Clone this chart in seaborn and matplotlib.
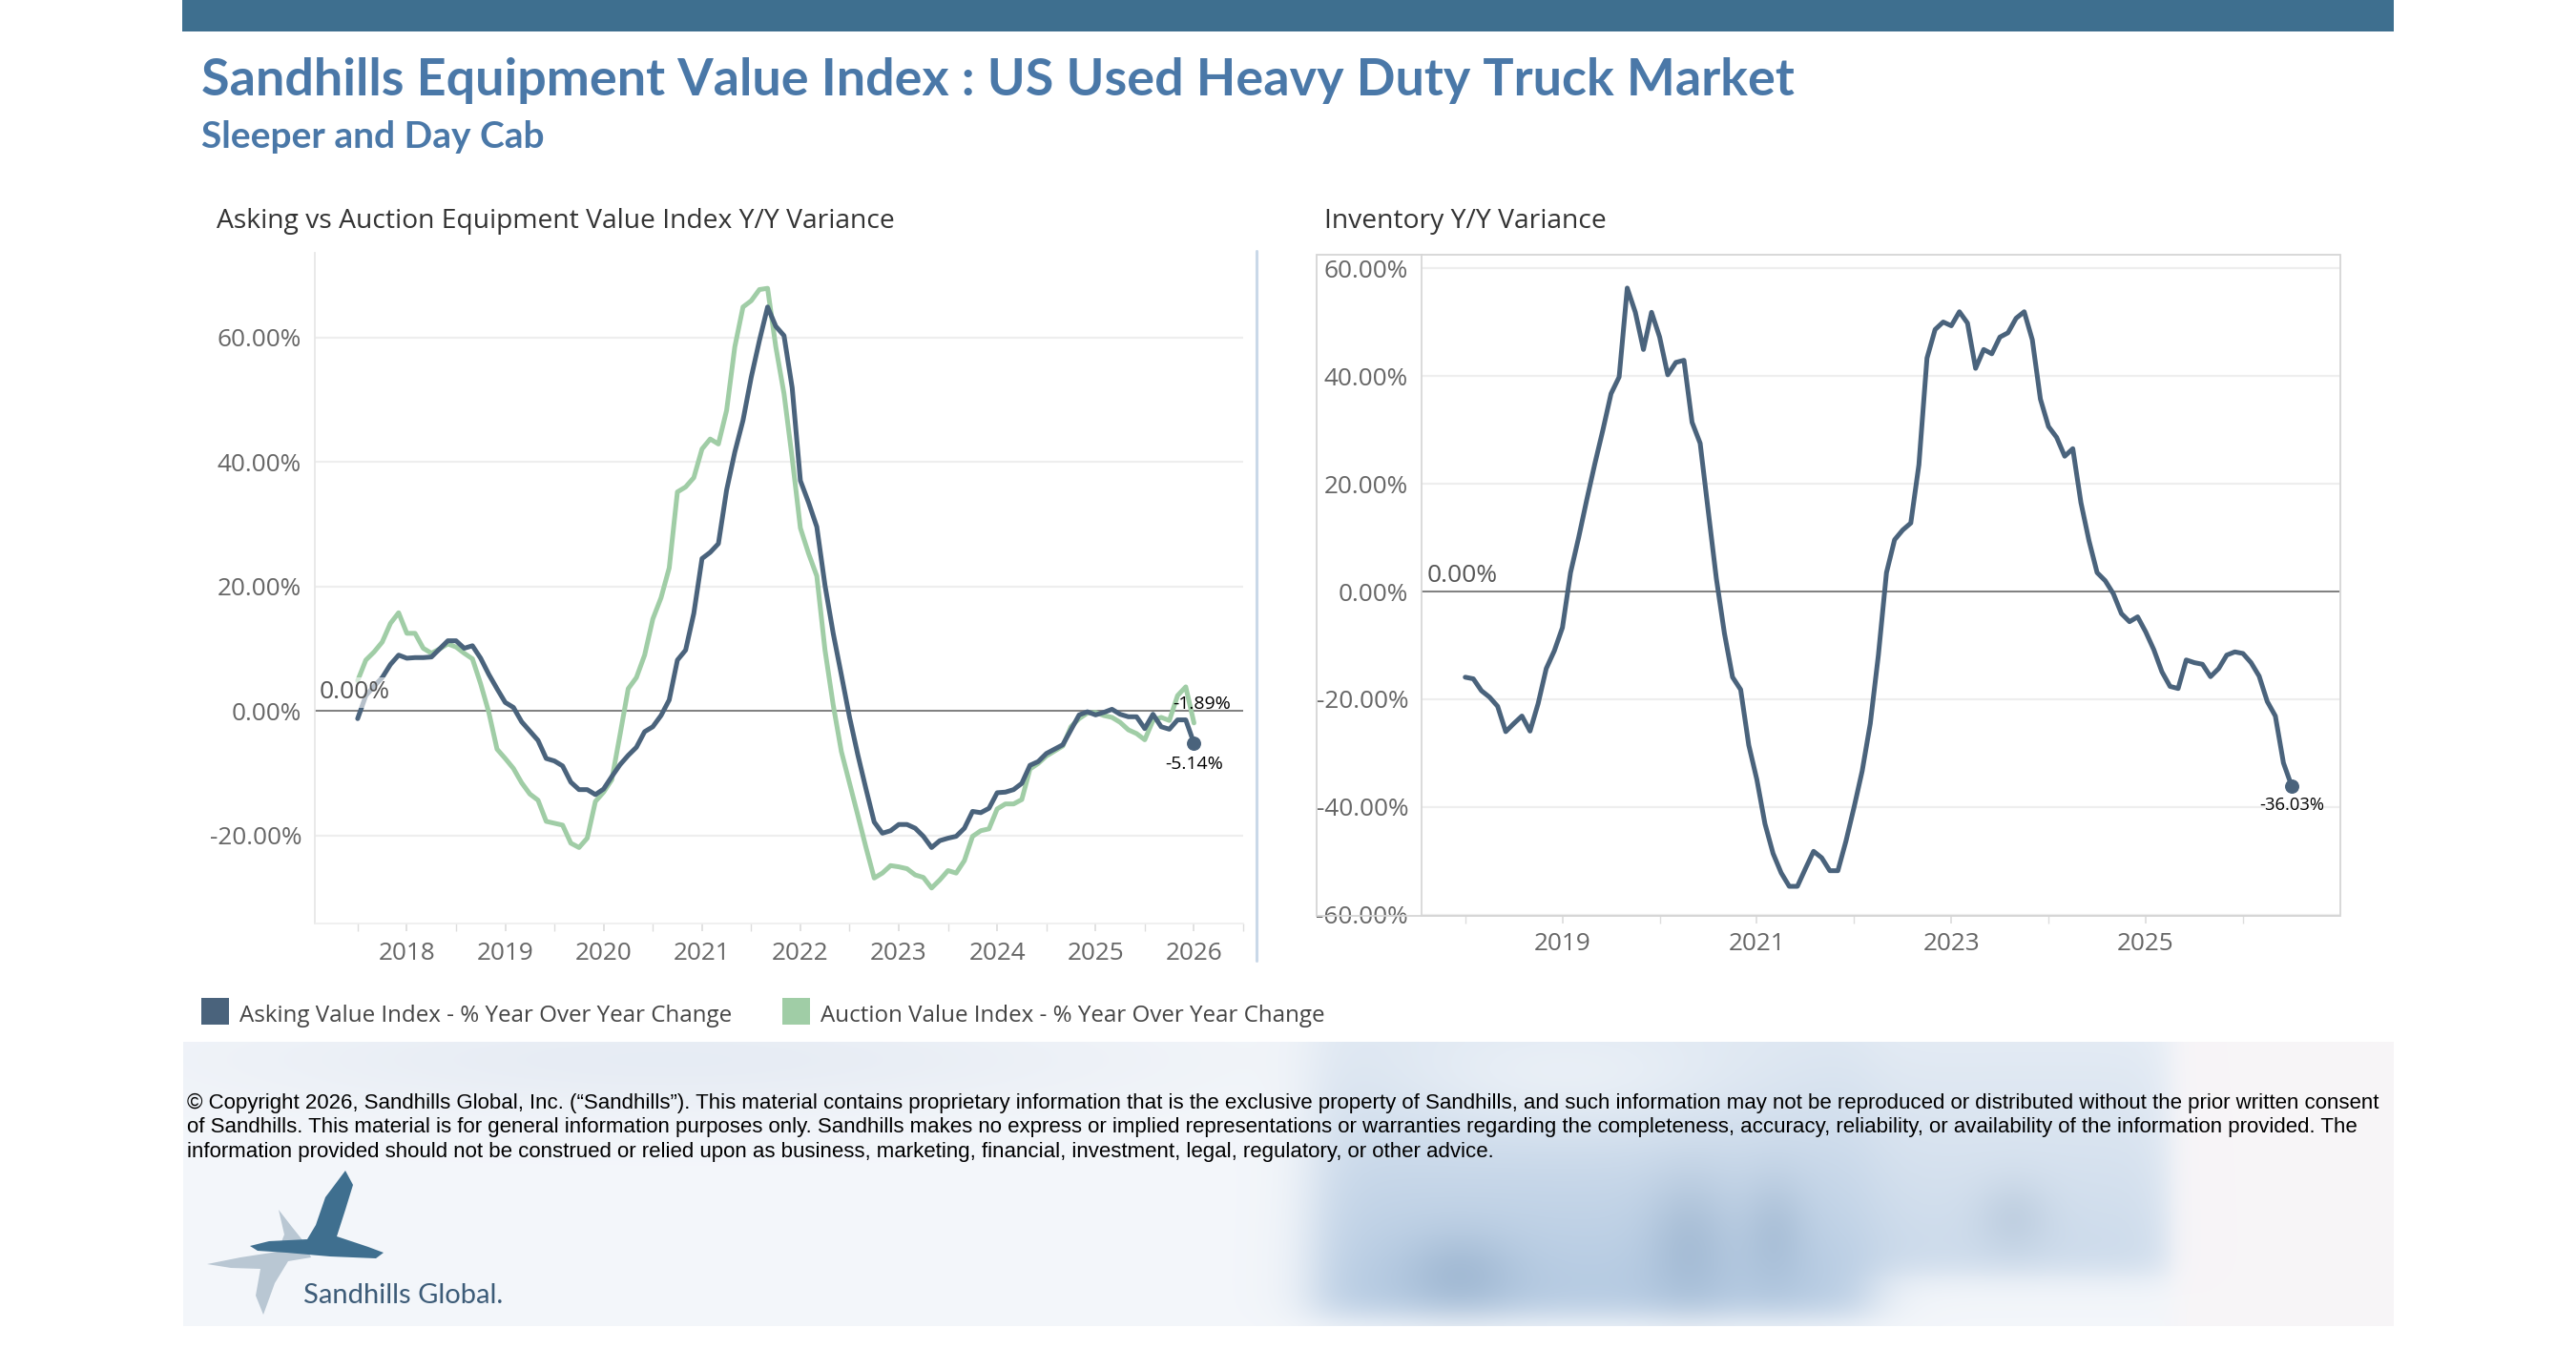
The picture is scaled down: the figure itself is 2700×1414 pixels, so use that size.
import matplotlib
matplotlib.use("Agg")
import matplotlib.pyplot as plt
import seaborn as sns
import numpy as np
import pandas as pd

# --- data -----------------------------------------------------------------
asking_months = pd.date_range("2017-07-01", "2026-01-01", freq="MS")
asking_yoy = [
    -1.2, 2.5, 4.0, 5.4, 7.5, 9.0, 8.5, 8.6, 8.6, 8.7, 10.0, 11.3,
    11.3, 10.1, 10.5, 8.5, 5.9, 3.6, 1.4, 0.6, -1.7, -3.2, -4.7, -7.6,
    -8.0, -8.8, -11.4, -12.6, -12.6, -13.4, -12.5, -10.5, -8.6, -7.1, -5.8, -3.3,
    -2.5, -0.7, 1.8, 8.2, 9.8, 15.7, 24.5, 25.5, 26.9, 35.5, 41.6, 46.7,
    53.6, 59.5, 64.9, 61.8, 60.3, 51.9, 37.0, 33.5, 29.6, 20.2, 12.5, 5.8,
    -1.0, -7.0, -12.5, -17.8, -19.6, -19.2, -18.2, -18.2, -18.8, -20.1, -21.9, -20.8,
    -20.4, -20.1, -18.8, -16.1, -16.3, -15.6, -13.1, -13.0, -12.6, -11.6, -8.7, -8.1,
    -6.8, -6.1, -5.4, -3.0, -0.6, -0.1, -0.6, -0.2, 0.3, -0.5, -0.9, -0.9,
    -2.8, -0.5, -2.5, -2.9, -1.4, -1.4, -5.14,
]
auction_yoy = [
    4.9, 8.2, 9.5, 11.1, 14.1, 15.8, 12.5, 12.5, 10.1, 9.3, 10.0, 10.8,
    10.3, 9.3, 8.4, 4.4, -0.2, -6.1, -7.6, -9.2, -11.5, -13.3, -14.3, -17.7,
    -18.0, -18.3, -21.2, -21.9, -20.4, -14.5, -13.0, -11.0, -3.8, 3.6, 5.4, 9.0,
    14.8, 18.2, 23.0, 35.2, 36.0, 37.5, 42.1, 43.7, 42.9, 48.3, 58.5, 64.9,
    65.9, 67.7, 67.9, 58.5, 51.0, 40.6, 29.4, 25.3, 21.7, 9.8, 1.0, -6.5,
    -11.6, -16.7, -21.9, -26.8, -26.0, -24.8, -25.0, -25.3, -26.3, -26.7, -28.4, -27.1,
    -25.6, -26.0, -24.0, -20.1, -19.2, -18.9, -15.7, -14.9, -14.9, -14.2, -9.3, -8.4,
    -7.2, -6.4, -5.6, -2.5, -1.2, -0.3, -0.2, -0.7, -1.0, -1.8, -3.0, -3.6,
    -4.6, -1.5, -1.0, -1.5, 2.5, 3.9, -1.89,
]
inventory_months = pd.date_range("2018-01-01", "2026-07-01", freq="MS")
inventory_yoy = [
    -15.9, -16.2, -18.4, -19.6, -21.3, -26.0, -24.5, -23.1, -25.9, -20.8, -14.3, -11.0,
    -6.7, 3.5, 10.0, 17.0, 23.7, 30.0, 36.7, 39.8, 56.3, 51.8, 44.9, 51.8,
    47.2, 40.2, 42.5, 42.9, 31.4, 27.5, 14.9, 2.4, -7.8, -15.9, -18.2, -28.5,
    -34.9, -43.1, -48.6, -52.2, -54.7, -54.7, -51.4, -48.2, -49.4, -51.8, -51.8, -46.3,
    -40.0, -33.3, -24.5, -11.8, 3.5, 9.6, 11.4, 12.7, 23.5, 43.3, 48.6, 50.0,
    49.3, 51.9, 49.8, 41.4, 44.9, 44.1, 47.2, 48.0, 50.7, 51.9, 46.7, 35.7,
    30.6, 28.6, 25.1, 26.5, 16.5, 9.4, 3.5, 2.0, -0.4, -4.1, -5.6, -4.7,
    -7.5, -10.8, -14.9, -17.6, -18.0, -12.7, -13.2, -13.5, -15.8, -14.3, -11.8, -11.2,
    -11.5, -13.2, -15.7, -20.4, -23.1, -31.8, -36.03,
]

left_years = [2018, 2019, 2020, 2021, 2022, 2023, 2024, 2025, 2026]
right_years = [2019, 2021, 2023, 2025]
left_pct_ticks = [-20, 0, 20, 40, 60]
right_pct_ticks = [-60, -40, -20, 0, 20, 40, 60]

ASKING = "Asking Value Index - % Year Over Year Change"
AUCTION = "Auction Value Index - % Year Over Year Change"

title = "Sandhills Equipment Value Index : US Used Heavy Duty Truck Market"
subtitle = "Sleeper and Day Cab"
left_title = "Asking vs Auction Equipment Value Index Y/Y Variance"
right_title = "Inventory Y/Y Variance"
copyright_lines = [
    "\u00a9 Copyright 2026, Sandhills Global, Inc. (\u201cSandhills\u201d). This material contains proprietary "
    "information that is the exclusive property of Sandhills, and such information may not be reproduced or "
    "distributed without the prior written consent",
    "of Sandhills. This material is for general information purposes only. Sandhills makes no express or implied "
    "representations or warranties regarding the completeness, accuracy, reliability, or availability of the "
    "information provided. The",
    "information provided should not be construed or relied upon as business, marketing, financial, investment, "
    "legal, regulatory, or other advice.",
]

DARK = "#4a637c"
GREEN = "#a0cda6"
BLUE_TITLE = "#4a78a8"
BAR = "#3e6f8f"
TICK = "#666666"
UI = ["Open Sans", "DejaVu Sans"]
TICK_SIZE = 18.8

# --- setup ------------------------------------------------------------------
sns.set_theme(style="white")
plt.rcParams["font.family"] = UI

W, H = 2700, 1414
fig = plt.figure(figsize=(W / 100, H / 100), dpi=100)
fig.patch.set_facecolor("white")


def box(x0, y0, x1, y1):
    return [x0 / W, 1 - y1 / H, (x1 - x0) / W, (y1 - y0) / H]


def ftext(x, y, s, **kw):
    return fig.text(x / W, 1 - y / H, s, **kw)


def frac_year(months):
    return months.year + (months.month - 1) / 12


left_df = pd.concat([
    pd.DataFrame({"x": frac_year(asking_months), "value": auction_yoy, "series": AUCTION}),
    pd.DataFrame({"x": frac_year(asking_months), "value": asking_yoy, "series": ASKING}),
])
right_df = pd.DataFrame({"x": frac_year(inventory_months), "value": inventory_yoy})

# header
fig.add_artist(plt.Rectangle((191 / W, 1 - 33 / H), (2509 - 191) / W, 33 / H,
                             transform=fig.transFigure, color=BAR, lw=0))
ftext(211, 100, title, fontsize=38.8, fontweight="bold", color=BLUE_TITLE, family=["Lato", "DejaVu Sans"])
ftext(211, 155, subtitle, fontsize=28, fontweight="bold", color=BLUE_TITLE, family=["Lato", "DejaVu Sans"])
ftext(227, 239, left_title, fontsize=20.3, color="#333333")
ftext(1388, 239, right_title, fontsize=20.3, color="#333333")


def style_axis(ax, ylim, xlim, yticks, xpad):
    ax.set_xlim(*xlim)
    ax.set_ylim(*ylim)
    ax.set_yticks(yticks)
    ax.set_yticklabels([f"{v:.2f}%" for v in yticks])
    ax.grid(axis="y", color="#eeeeee", lw=1.6)
    ax.grid(axis="x", visible=False)
    ax.axhline(0, color="#7f7f7f", lw=1.4, zorder=1)
    ax.tick_params(axis="y", length=0, labelsize=TICK_SIZE, labelcolor=TICK, pad=10)
    ax.tick_params(axis="x", which="both", length=6, color="#dddddd", labelsize=TICK_SIZE,
                   labelcolor=TICK, pad=xpad, bottom=True)
    ax.set_xlabel("")
    ax.set_ylabel("")
    ax.set_facecolor("white")


# --- left chart ---------------------------------------------------------------
axl = fig.add_axes(box(330, 265, 1303, 968))
sns.lineplot(data=left_df, x="x", y="value", hue="series", hue_order=[AUCTION, ASKING],
             palette={ASKING: DARK, AUCTION: GREEN}, lw=3.6, legend=False, ax=axl)
style_axis(axl, (-34.1, 73.6), (2017.065, 2026.475), left_pct_ticks, 8)
axl.set_xticks(left_years)
axl.set_xticklabels([str(y) for y in left_years])
axl.set_xticks([y - 0.5 for y in left_years] + [left_years[-1] + 0.5], minor=True)
for s in ["top", "right"]:
    axl.spines[s].set_visible(False)
axl.spines["left"].set_color("#e6e6e6")
axl.spines["bottom"].set_color("#eeeeee")

lx = frac_year(asking_months)
axl.scatter([lx[-1]], [asking_yoy[-1]], s=95, color=DARK, zorder=5)
axl.annotate(f"{asking_yoy[-1]:.2f}%", (lx[-1], asking_yoy[-1]), xytext=(0, -16),
             textcoords="offset points", ha="center", va="center", fontsize=14, color="black")
axl.annotate(f"{auction_yoy[-1]:.2f}%", (lx[-1], auction_yoy[-1]), xytext=(6, 14),
             textcoords="offset points", ha="center", va="center", fontsize=14, color="black")
axl.annotate("0.00%", (2017.065, 0), xytext=(3, 5), textcoords="offset points",
             ha="left", va="bottom", fontsize=19, color="#555555",
             bbox=dict(boxstyle="square,pad=0.12", fc="white", ec="none", alpha=0.6), zorder=6)

# separator
fig.add_artist(plt.Line2D([1317 / W, 1317 / W], [1 - 263 / H, 1 - 1007 / H],
                          transform=fig.transFigure, color="#c9d8e8", lw=2.2))

# --- right chart --------------------------------------------------------------
fig.add_artist(plt.Rectangle((1380 / W, 1 - 960 / H), (2452.5 - 1380) / W, (960 - 266.5) / H,
                             transform=fig.transFigure, fill=False, ec="#d6d6d6", lw=1.3))
axr = fig.add_axes(box(1490, 266.5, 2452.5, 960))
sns.lineplot(data=right_df, x="x", y="value", color=DARK, lw=3.6, ax=axr)
style_axis(axr, (-60.18, 62.57), (2017.551, 2026.997), right_pct_ticks, 6)
axr.set_xticks(right_years)
axr.set_xticklabels([str(y) for y in right_years])
axr.set_xticks([y - 1 for y in right_years] + [right_years[-1] + 1], minor=True)
for s in axr.spines.values():
    s.set_color("#d6d6d6")
axr.spines["top"].set_visible(False)
axr.spines["right"].set_visible(False)

rx = frac_year(inventory_months)
axr.scatter([rx[-1]], [inventory_yoy[-1]], s=95, color=DARK, zorder=5)
axr.annotate(f"{inventory_yoy[-1]:.2f}%", (rx[-1], inventory_yoy[-1]), xytext=(0, -15),
             textcoords="offset points", ha="center", va="center", fontsize=13.2, color="black")
axr.annotate("0.00%", (2017.551, 0), xytext=(4, 3), textcoords="offset points",
             ha="left", va="bottom", fontsize=19, color="#555555", zorder=6)

# --- legend -------------------------------------------------------------------
for x0, col, label in [(211, DARK, ASKING), (820, GREEN, AUCTION)]:
    fig.add_artist(plt.Rectangle((x0 / W, 1 - 1074 / H), 29 / W, 28 / H,
                                 transform=fig.transFigure, color=col, lw=0))
    ftext(x0 + 40, 1071, label, fontsize=17.4, color="#444444")

# --- footer panel (soft stand-in for the truck photo) -------------------------
px0, py0, px1, py1 = 192, 1092, 2509, 1390
axb = fig.add_axes(box(px0, py0, px1, py1))
yy, xx = np.mgrid[py0:py1, px0:px1].astype(float)


def sig(v, s=12.0):
    return 1.0 / (1.0 + np.exp(-v / s))


base = np.array([0.955, 0.966, 0.982])
img = np.ones(xx.shape + (3,)) * base
haze = np.exp(-(((xx - 700) / 500.0) ** 2 + ((yy - 1110) / 60.0) ** 2))
img -= haze[..., None] * np.array([0.05, 0.04, 0.025])
cab = sig(xx - 1378, 18) * sig(1962 - xx, 18) * sig(1378 - yy, 10)
trailer = sig(xx - 1962, 18) * sig(2277 - xx, 14) * sig(1335 - yy, 10)
shade = 0.35 + 0.65 * (yy - py0) / (py1 - py0)
mask = np.clip((0.8 * cab + 0.55 * trailer) * shade, 0, 1)
truck = np.array([0.62, 0.73, 0.85])
img = img * (1 - mask[..., None]) + truck * mask[..., None]
for cx, cy, rx_, ry_, k in [(1530, 1335, 60, 45, 0.08), (1770, 1300, 45, 70, 0.08),
                            (1860, 1290, 35, 60, 0.07), (2110, 1275, 40, 40, 0.06)]:
    w = np.exp(-(((xx - cx) / rx_) ** 2 + ((yy - cy) / ry_) ** 2)) * k
    img -= w[..., None] * np.array([1.0, 0.85, 0.7])
glow = np.exp(-(((xx - 1640) / 200.0) ** 2 + ((yy - 1130) / 60.0) ** 2)) * 0.45
img = img * (1 - glow[..., None]) + glow[..., None]
right = sig(xx - 2280, 8)
img = img * (1 - right[..., None] * 0.85) + np.array([0.975, 0.96, 0.968]) * right[..., None] * 0.85
axb.imshow(np.clip(img, 0, 1), aspect="auto", extent=(0, 1, 0, 1), interpolation="bilinear")
axb.axis("off")

for i, line in enumerate(copyright_lines):
    ftext(196, 1162 + i * 25.5, line, fontsize=16, color="black", family=["Liberation Sans", "DejaVu Sans"])

# logo: two simple bird shapes and the wordmark
shadow_bird = [(292, 1268), (306, 1286), (318, 1301), (326, 1318), (302, 1322), (288, 1345),
               (276, 1378), (268, 1358), (273, 1330), (242, 1329), (217, 1325), (252, 1318),
               (291, 1312), (298, 1294)]
dark_bird = [(362, 1227), (370, 1242), (362, 1268), (353, 1296), (386, 1307), (402, 1313),
             (394, 1319), (346, 1317), (300, 1313), (270, 1311), (262, 1306), (282, 1301),
             (322, 1299), (331, 1284), (341, 1255)]
for pts, col in [(shadow_bird, "#b9c7d3"), (dark_bird, "#3f6f8f")]:
    fig.add_artist(plt.Polygon([(x / W, 1 - y / H) for x, y in pts], closed=True,
                               transform=fig.transFigure, color=col, lw=0))
ftext(318, 1366, "Sandhills Global.", fontsize=21, color="#3d5c78", family=["Lato", "DejaVu Sans"])

fig.savefig("out.png", dpi=100, facecolor="white")
